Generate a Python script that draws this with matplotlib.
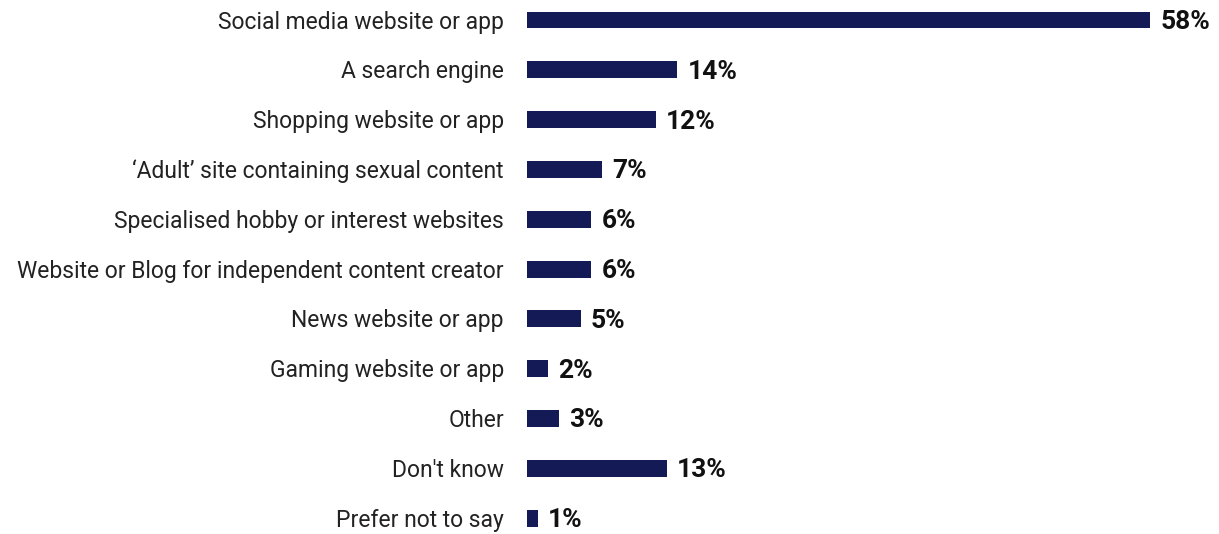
import matplotlib.pyplot as plt

categories = [
    "Social media website or app",
    "A search engine",
    "Shopping website or app",
    "\u2018Adult\u2019 site containing sexual content",
    "Specialised hobby or interest websites",
    "Website or Blog for independent content creator",
    "News website or app",
    "Gaming website or app",
    "Other",
    "Don't know",
    "Prefer not to say",
]
values = [58, 14, 12, 7, 6, 6, 5, 2, 3, 13, 1]

bar_color = "#131a55"

plt.rcParams["font.family"] = ["Roboto", "DejaVu Sans"]

fig = plt.figure(figsize=(12.19, 5.34), dpi=100)
ax = fig.add_axes([0.4323, 0, 0.5677, 1])

ypos = list(range(len(categories)))
ax.barh(ypos, values, height=0.34, color=bar_color)

for y, cat, v in zip(ypos, categories, values):
    ax.annotate(cat, xy=(0, y), xytext=(-23, -2), textcoords="offset pixels",
                ha="right", va="center", fontsize=16.5, color="#222222")
    ax.annotate(f"{v}%", xy=(v, y), xytext=(10, -2), textcoords="offset pixels",
                ha="left", va="center", fontsize=19, fontweight="bold", color="#111111")

ax.set_xlim(0, 64.4)
ax.set_ylim(10.32, -0.402)
ax.axis("off")

fig.savefig("out.png", dpi=100)
